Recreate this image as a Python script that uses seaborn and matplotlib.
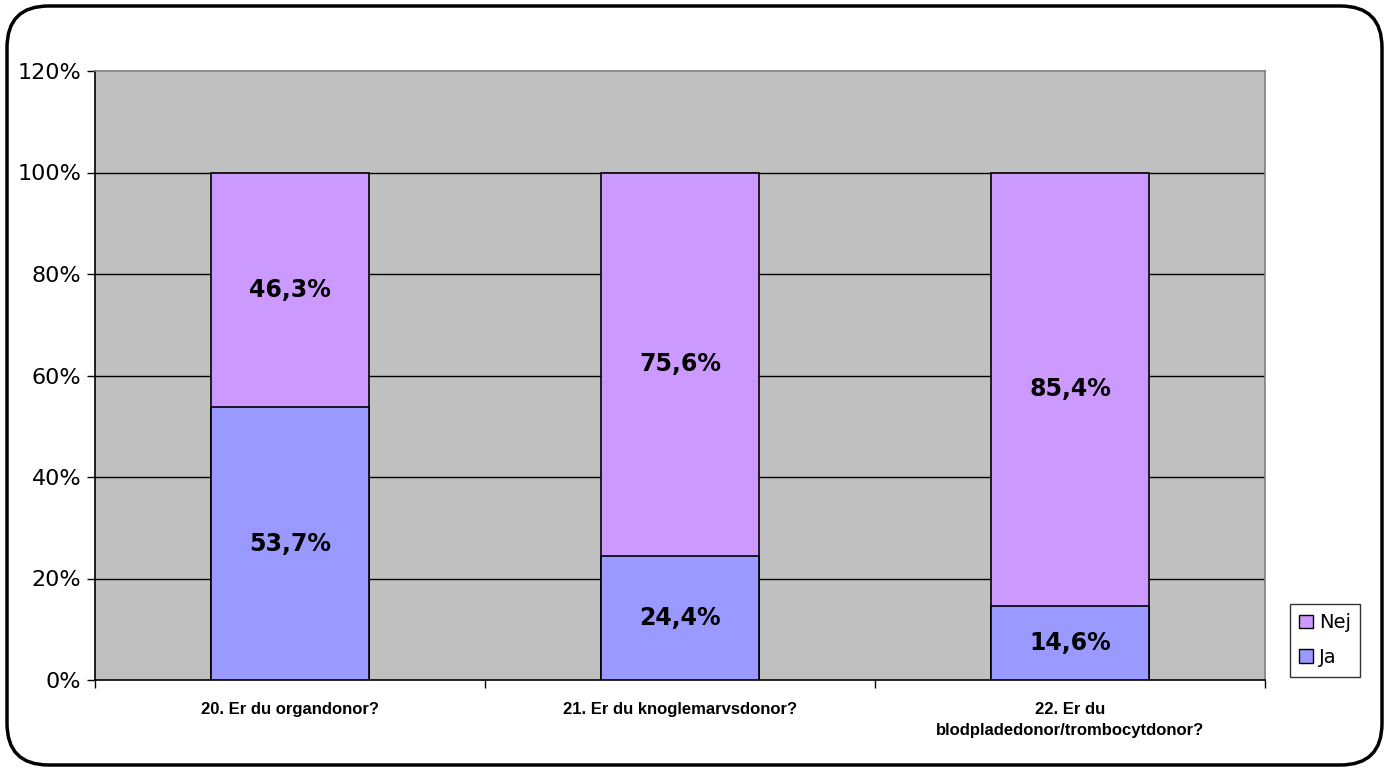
import matplotlib
matplotlib.use("Agg")
import matplotlib.pyplot as plt
import seaborn as sns
import pandas as pd
from matplotlib.patches import FancyBboxPatch, Patch

categories = ["20. Er du organdonor?", "21. Er du knoglemarvsdonor?",
              "22. Er du\nblodpladedonor/trombocytdonor?"]
ja = [53.7, 24.4, 14.6]
nej = [46.3, 75.6, 85.4]
yticks = [0, 20, 40, 60, 80, 100, 120]

sns.set_theme(style="white")
plt.rcParams['font.family'] = ['DejaVu Sans']
plt.rcParams['text.color'] = 'black'
plt.rcParams['xtick.color'] = 'black'
plt.rcParams['ytick.color'] = 'black'

c_ja = "#9999FF"
c_nej = "#CC99FF"

df = pd.DataFrame({"cat": categories, "Ja": ja, "Nej": nej})
df["total"] = df["Ja"] + df["Nej"]

fig = plt.figure(figsize=(13.88, 7.71), dpi=100)
fig.patch.set_facecolor("white")
W, H = 1388, 771
frame = FancyBboxPatch((7 / W, 6 / H), (1382 - 7) / W, (765 - 6) / H,
                       boxstyle="round,pad=0,rounding_size=0.03",
                       transform=fig.transFigure, facecolor="none",
                       edgecolor="black", linewidth=2.5, zorder=-1,
                       mutation_aspect=W / H)
fig.patches.append(frame)

ax = fig.add_axes([95 / W, (771 - 680) / H, 1170 / W, 609 / H])
ax.set_zorder(2)
ax.set_facecolor("#C0C0C0")

sns.barplot(data=df, x="cat", y="total", color=c_nej, ax=ax, width=0.405,
            edgecolor="black", linewidth=1.2, saturation=1, zorder=3)
sns.barplot(data=df, x="cat", y="Ja", color=c_ja, ax=ax, width=0.405,
            edgecolor="black", linewidth=1.2, saturation=1, zorder=3)

ax.set_xlim(-0.5, 2.5)
ax.set_ylim(0, 120)
ax.set_yticks(yticks)
ax.set_yticklabels([f"{v}%" for v in yticks], fontsize=16, color="black")
for v in yticks[1:-1]:
    ax.axhline(v, color="black", linewidth=1, zorder=1)

ax.set_xlabel("")
ax.set_ylabel("")
ax.set_xticks([0, 1, 2])
ax.set_xticklabels(categories, fontsize=12, fontweight="bold",
                   family="Liberation Sans", linespacing=1.5, color="black")
ax.tick_params(axis="x", length=0, pad=16)
ax.set_xticks([-0.5, 0.5, 1.5, 2.5], minor=True)
ax.tick_params(axis="x", which="minor", length=6, width=1, color="black",
               direction="out", bottom=True)
ax.tick_params(axis="y", length=6, width=1, color="black", direction="out",
               left=True, pad=4)

for s in ["top", "right"]:
    ax.spines[s].set_color("#808080")
    ax.spines[s].set_linewidth(1.2)
for s in ["left", "bottom"]:
    ax.spines[s].set_color("black")
    ax.spines[s].set_linewidth(1.2)

for i in range(len(categories)):
    ax.text(i, ja[i] / 2, f"{ja[i]:.1f}%".replace(".", ","), ha="center",
            va="center", fontsize=17, fontweight="bold", color="black", zorder=5)
    ax.text(i, ja[i] + nej[i] / 2, f"{nej[i]:.1f}%".replace(".", ","),
            ha="center", va="center", fontsize=17, fontweight="bold",
            color="black", zorder=5)

handles = [Patch(facecolor=c_nej, edgecolor="black", label="Nej"),
           Patch(facecolor=c_ja, edgecolor="black", label="Ja")]
leg = fig.legend(handles=handles, loc="center", bbox_to_anchor=(1325 / W, 1 - 640 / H),
                 fontsize=14, frameon=True, fancybox=False, handlelength=0.7,
                 handleheight=0.7, handletextpad=0.3, borderpad=0.5,
                 labelspacing=0.8)
for t in leg.get_texts():
    t.set_color("black")
leg.get_frame().set_edgecolor("black")
leg.get_frame().set_linewidth(1)

fig.savefig("out.png", dpi=100, facecolor="white")
